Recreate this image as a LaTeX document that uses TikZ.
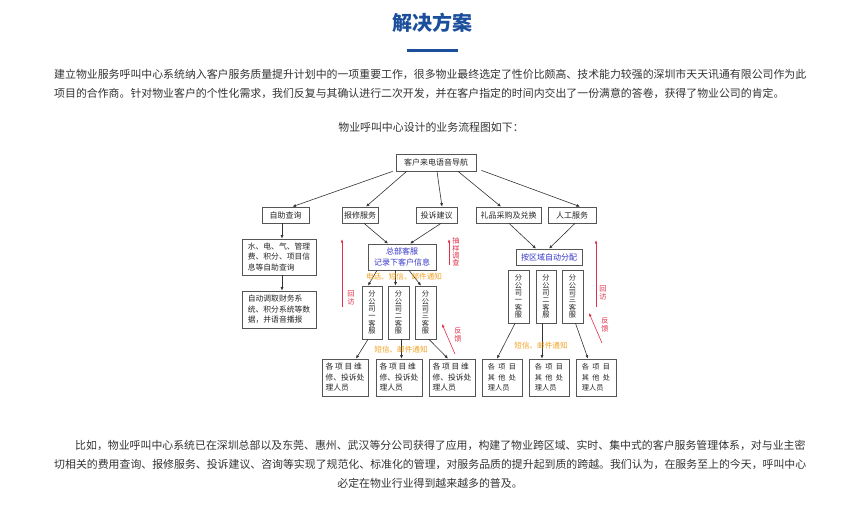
\documentclass[tikz,border=0pt]{standalone}
\usepackage{fontspec}
\setmainfont{Noto Sans CJK SC}
\usetikzlibrary{arrows.meta}
\definecolor{titleblue}{HTML}{1B4F9C}
\definecolor{bodytext}{HTML}{333333}
\definecolor{boxline}{HTML}{555555}
\definecolor{lblue}{HTML}{3535C8}
\definecolor{lred}{HTML}{E0304A}
\definecolor{lorange}{HTML}{F2A324}
\begin{document}
\begin{tikzpicture}[x=1pt,y=-1pt,
  para/.style={anchor=west, inner sep=0pt, text=bodytext, font=\fontsize{10.9}{13}\selectfont},
  box/.style={draw=boxline, line width=0.7pt, fill=white, inner sep=0pt, text=black!85, align=center, font=\fontsize{8}{10.5}\selectfont},
  lbox/.style={box, align=left, font=\fontsize{7.8}{10.5}\selectfont},
  vbox/.style={box, font=\fontsize{7.2}{7.4}\selectfont},
  arr/.style={draw=black!80, line width=0.6pt, -{Latex[length=3.5pt,width=3pt]}},
  rarr/.style={draw=lred, line width=0.6pt, -{Latex[length=3.5pt,width=2.6pt]}},
  rlab/.style={text=lred, inner sep=0pt, align=center, font=\fontsize{7.2}{7.4}\selectfont},
  olab/.style={text=lorange, inner sep=0pt, font=\fontsize{7.6}{9}\selectfont}
]
\useasboundingbox[fill=white] (0,0) rectangle (860,504);

% title
\node[inner sep=0pt, text=titleblue, font=\fontsize{20}{24}\selectfont\bfseries] (title) at (432,23) {解决方案};
\coordinate (ul1) at (407,50.5);
\coordinate (ul2) at (458,50.5);
\draw[titleblue, line width=2.5pt] (ul1) -- (ul2);

% intro paragraph
\node[para] (p1) at (54,74) {建立物业服务呼叫中心系统纳入客户服务质量提升计划中的一项重要工作，很多物业最终选定了性价比颇高、技术能力较强的深圳市天天讯通有限公司作为此};
\node[para] (p2) at (54,93) {项目的合作商。针对物业客户的个性化需求，我们反复与其确认进行二次开发，并在客户指定的时间内交出了一份满意的答卷，获得了物业公司的肯定。};
\node[para, anchor=center] (cap) at (431,127) {物业呼叫中心设计的业务流程图如下：};

% flowchart boxes
\node[box, minimum width=80pt, minimum height=17pt] (nav) at (436,162.5) {客户来电语音导航};
\node[box, minimum width=47pt, minimum height=16pt] (zz) at (285.5,215) {自助查询};
\node[box, minimum width=36pt, minimum height=16pt] (bx) at (360,215) {报修服务};
\node[box, minimum width=41pt, minimum height=16pt] (ts) at (436.5,215) {投诉建议};
\node[box, minimum width=65pt, minimum height=16pt] (lp) at (508.5,215) {礼品采购及兑换};
\node[box, minimum width=48pt, minimum height=16pt] (rg) at (572,215) {人工服务};

\node[lbox, minimum width=74pt, minimum height=36pt] (sd) at (279,257) {水、电、气、管理\\费、积分、项目信\\息等自助查询};
\node[lbox, minimum width=74pt, minimum height=37pt] (zd) at (279,309.5) {自动调取财务系\\统、积分系统等数\\据，并语音播报};

\node[box, text=lblue, minimum width=68pt, minimum height=26pt] (zb) at (402,257) {总部客服\\记录下客户信息};
\node[vbox, minimum width=20pt, minimum height=53pt] (f1) at (372,312.5) {分\\公\\司\\一\\客\\服};
\node[vbox, minimum width=21pt, minimum height=53pt] (f2) at (398.5,312.5) {分\\公\\司\\二\\客\\服};
\node[vbox, minimum width=21pt, minimum height=53pt] (f3) at (425.5,312.5) {分\\公\\司\\三\\客\\服};
\node[lbox, minimum width=46pt, minimum height=37pt] (b1) at (345,377.5) {各 项 目 维\\修、投诉处\\理人员};
\node[lbox, minimum width=46pt, minimum height=37pt] (b2) at (399,377.5) {各 项 目 维\\修、投诉处\\理人员};
\node[lbox, minimum width=46pt, minimum height=37pt] (b3) at (452,377.5) {各 项 目 维\\修、投诉处\\理人员};

\node[box, text=lblue, minimum width=66pt, minimum height=16pt] (aq) at (549,257) {按区域自动分配};
\node[vbox, minimum width=21pt, minimum height=53pt] (g1) at (518.5,296.5) {分\\公\\司\\一\\客\\服};
\node[vbox, minimum width=20pt, minimum height=53pt] (g2) at (546,296.5) {分\\公\\司\\二\\客\\服};
\node[vbox, minimum width=21pt, minimum height=53pt] (g3) at (572.5,296.5) {分\\公\\司\\三\\客\\服};
\node[lbox, minimum width=40pt, minimum height=37pt, font=\fontsize{7.2}{10.5}\selectfont] (c1) at (502,377.5) {各\ \ 项\ \ 目\\其\ \ 他\ \ 处\\理人员};
\node[lbox, minimum width=40pt, minimum height=37pt, font=\fontsize{7.2}{10.5}\selectfont] (c2) at (549,377.5) {各\ \ 项\ \ 目\\其\ \ 他\ \ 处\\理人员};
\node[lbox, minimum width=40pt, minimum height=37pt, font=\fontsize{7.2}{10.5}\selectfont] (c3) at (596,377.5) {各\ \ 项\ \ 目\\其\ \ 他\ \ 处\\理人员};

% black connectors
\draw[arr] ([xshift=-3pt]nav.south west) -- ([xshift=7pt]zz.north);
\draw[arr] ([xshift=11pt]nav.south west) -- ([xshift=6pt]bx.north);
\draw[arr] ([xshift=1pt]nav.south) -- ([xshift=5.5pt]ts.north);
\draw[arr] ([xshift=22pt]nav.south) -- ([xshift=-7.5pt]lp.north);
\draw[arr] ([xshift=5pt,yshift=1pt]nav.south east) -- ([xshift=8pt]rg.north);
\draw[arr] ([xshift=-3.5pt]zz.south) -- ([xshift=3pt]sd.north);
\draw[arr] ([xshift=3pt]sd.south) -- ([xshift=3pt]zd.north);
\draw[arr] ([xshift=4pt]bx.south) -- ([xshift=-14pt]zb.north);
\draw[arr] ([xshift=4.5pt]ts.south) -- ([xshift=8pt]zb.north);
\draw[arr] ([xshift=-25pt]zb.south) -- ([xshift=-4pt]f1.north);
\draw[arr] ([xshift=-3pt]f2.north |- zb.south) -- ([xshift=-3pt]f2.north);
\draw[arr] ([xshift=7pt]zb.south) -- ([xshift=-4.5pt]f3.north);
\draw[arr] ([xshift=-4pt]f1.south) -- ([xshift=11pt]b1.north);
\draw[arr] ([xshift=3pt]f2.south) -- ([xshift=3pt]f2.south |- b2.north);
\draw[arr] ([xshift=3.5pt]f3.south) -- ([xshift=-4pt]b3.north);
\draw[arr] ([xshift=0.5pt]lp.south) -- ([xshift=-13pt]aq.north);
\draw[arr] ([xshift=3pt]rg.south) -- (aq.north);
\draw[arr] ([xshift=-3.5pt]g1.south) -- ([xshift=-5pt]c1.north);
\draw[arr] ([xshift=-4pt]g2.south) -- ([xshift=-4pt]g2.south |- c2.north);
\draw[arr] ([xshift=3pt]g3.south) -- ([xshift=-8pt]c3.north);

% orange labels
\node[olab] (o1) at (404,277) {电话、短信、邮件通知};
\node[olab] (o2) at (401,350) {短信、邮件通知};
\node[olab] (o3) at (541,346) {短信、邮件通知};

% red feedback arrows
\coordinate (r1a) at (342,307); \coordinate (r1b) at (342,239);
\coordinate (r2a) at (449,265); \coordinate (r2b) at (449,239);
\coordinate (r3a) at (455,354); \coordinate (r3b) at (442,324);
\coordinate (r4a) at (596,307); \coordinate (r4b) at (596,240);
\coordinate (r5a) at (602,343); \coordinate (r5b) at (589,313);
\draw[rarr] (r1a) -- (r1b);
\draw[rarr] (r2a) -- (r2b);
\draw[rarr] (r3a) -- (r3b);
\draw[rarr] (r4a) -- (r4b);
\draw[rarr] (r5a) -- (r5b);
\node[rlab] (l1) at (351,298) {回\\访};
\node[rlab] (l2) at (456,252) {抽\\样\\调\\查};
\node[rlab] (l3) at (458,335) {反\\馈};
\node[rlab] (l4) at (603,293) {回\\访};
\node[rlab] (l5) at (605,325) {反\\馈};

% closing paragraph
\node[para] (q1) at (75,445) {比如，物业呼叫中心系统已在深圳总部以及东莞、惠州、武汉等分公司获得了应用，构建了物业跨区域、实时、集中式的客户服务管理体系，对与业主密};
\node[para] (q2) at (54,464) {切相关的费用查询、报修服务、投诉建议、咨询等实现了规范化、标准化的管理，对服务品质的提升起到质的跨越。我们认为，在服务至上的今天，呼叫中心};
\node[para, anchor=center] (q3) at (430,483) {必定在物业行业得到越来越多的普及。};
\end{tikzpicture}
\end{document}
